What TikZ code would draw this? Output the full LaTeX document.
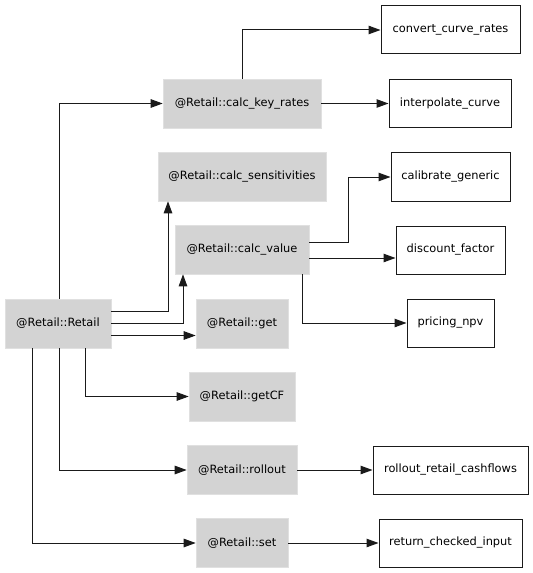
\documentclass[tikz,border=0pt]{standalone}
\usepackage{fontspec}
\setmainfont{DejaVu Sans}
\usetikzlibrary{arrows.meta,calc}
\definecolor{boxgray}{HTML}{D3D3D3}
\definecolor{edgeblk}{HTML}{1A1A1A}
\begin{document}
\begin{tikzpicture}[x=1bp,y=-1bp,
  fn/.style={font=\fontsize{11.4bp}{13bp}\selectfont, inner sep=0pt, minimum height=49bp},
  gbox/.style={fn, fill=boxgray, draw=boxgray!70!white, line width=0.6bp},
  wbox/.style={fn, fill=white, draw=edgeblk, line width=1bp, minimum height=48bp},
  edge/.style={draw=edgeblk, line width=1bp, -{Triangle[length=12bp,width=8.5bp]}}
]
\useasboundingbox[fill=white] (0,0) rectangle (533,573);
% gray nodes
\node[gbox, minimum width=106bp] (Retail) at (58,323.5) {@Retail::Retail};
\node[gbox, minimum width=158bp] (ckr) at (242,103.5) {@Retail::calc\_key\_rates};
\node[gbox, minimum width=168bp] (sens) at (242,176.5) {@Retail::calc\_sensitivities};
\node[gbox, minimum width=134bp] (cv) at (242,249.5) {@Retail::calc\_value};
\node[gbox, minimum width=92bp] (get) at (242,323.5) {@Retail::get};
\node[gbox, minimum width=106bp] (getCF) at (242,396.5) {@Retail::getCF};
\node[gbox, minimum width=110bp] (roll) at (242,470) {@Retail::rollout};
\node[gbox, minimum width=92bp] (set) at (242,543) {@Retail::set};
% white nodes
\node[wbox, minimum width=139bp] (conv) at (450.5,30) {convert\_curve\_rates};
\node[wbox, minimum width=122bp] (interp) at (450,103.5) {interpolate\_curve};
\node[wbox, minimum width=119bp] (calib) at (450.5,177) {calibrate\_generic};
\node[wbox, minimum width=109bp] (dis) at (450.5,250) {discount\_factor};
\node[wbox, minimum width=87bp] (npv) at (450.5,323) {pricing\_npv};
\node[wbox, minimum width=155bp] (rrc) at (450.5,470) {rollout\_retail\_cashflows};
\node[wbox, minimum width=143bp] (rci) at (450.5,543) {return\_checked\_input};
% edges from Retail
\draw[edge] ([xshift=1bp]Retail.north) |- (ckr.west);
\draw[edge] ([yshift=12bp]Retail.east) -| ([xshift=-74bp]sens.south);
\draw[edge] (Retail.east) -| ([xshift=-59bp]cv.south);
\draw[edge] ([yshift=-12bp]Retail.east) -- ([yshift=-12bp]get.west);
\draw[edge] ([xshift=27bp]Retail.south) |- (getCF.west);
\draw[edge] ([xshift=1bp]Retail.south) |- (roll.west);
\draw[edge] ([xshift=-26bp]Retail.south) |- (set.west);
% edges from calc_key_rates
\draw[edge] (ckr.north) |- (conv.west);
\draw[edge] (ckr.east) -- (interp.west);
% edges from calc_value
\draw[edge] ([yshift=7.5bp]cv.east) -| ([xshift=-42bp]calib.west) -- (calib.west);
\draw[edge] ([yshift=-8.5bp]cv.east) -- ([yshift=-8.5bp]cv.east -| dis.west);
\draw[edge] ([xshift=60bp]cv.south) |- (npv.west);
% other edges
\draw[edge] (roll.east) -- (rrc.west);
\draw[edge] (set.east) -- (rci.west);
\end{tikzpicture}
\end{document}
